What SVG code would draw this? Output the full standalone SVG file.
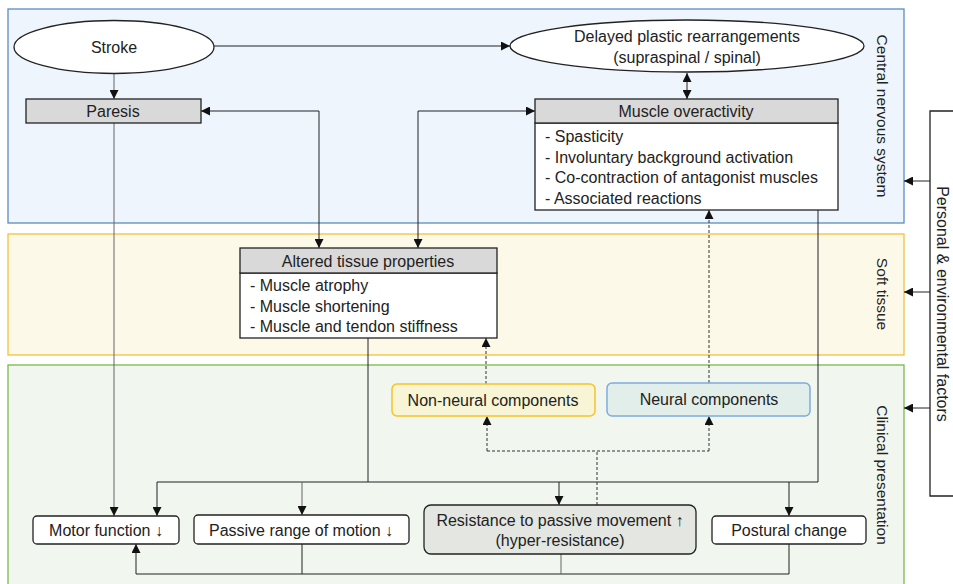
<svg xmlns="http://www.w3.org/2000/svg" width="953" height="584" viewBox="0 0 953 584">
<defs>
<marker id="ah" viewBox="0 0 10 10" refX="10" refY="5" markerWidth="9" markerHeight="9" orient="auto-start-reverse" markerUnits="userSpaceOnUse">
<path d="M0,0 L10,5 L0,10 z" fill="#111"/>
</marker>
<style>
text{font-family:"Liberation Sans","Open Sans",Arial,sans-serif;font-size:16px;fill:#222}
.c{text-anchor:middle}
.ln{fill:none;stroke:#222;stroke-width:1}
.lg{fill:none;stroke:#666;stroke-width:1}
.ds{fill:none;stroke:#333;stroke-width:1;stroke-dasharray:3,2}
.box{fill:#fff;stroke:#222;stroke-width:1.3}
.hdr{fill:#d9d9d9;stroke:#222;stroke-width:1.3}
.rb{fill:#fff;stroke:#222;stroke-width:1.3}
.side{font-size:15.5px}
</style>
</defs>
<rect width="953" height="584" fill="#fff"/>
<g id="regions">
<rect x="8" y="9" width="896" height="214" fill="#eef5fc" stroke="#5b8cc2" stroke-width="1.3"/>
<rect x="8" y="234" width="896" height="121" fill="#fdf9e8" stroke="#f5c13a" stroke-width="1.3"/>
<rect x="8" y="365" width="896" height="225" fill="#f1f6ef" stroke="#7cb84c" stroke-width="1.3"/>
<text class="side c" transform="translate(877,116) rotate(90)">Central nervous system</text>
<text class="side c" transform="translate(877,294) rotate(90)">Soft tissue</text>
<text class="side c" transform="translate(877,475) rotate(90)">Clinical presentation</text>
</g>
<g id="personal">
<path d="M953,111 H930 V496 H953" fill="none" stroke="#222" stroke-width="1.3"/>
<text class="c" transform="translate(937,304) rotate(90)">Personal &amp; environmental factors</text>
</g>
<g id="connectors">
<line class="ln" x1="930" y1="181" x2="904" y2="181" marker-end="url(#ah)"/>
<line class="ln" x1="930" y1="292" x2="904" y2="292" marker-end="url(#ah)"/>
<line class="ln" x1="930" y1="408" x2="904" y2="408" marker-end="url(#ah)"/>
<line class="ln" x1="213" y1="46" x2="510" y2="46" marker-end="url(#ah)"/>
<line class="lg" x1="114" y1="73" x2="114" y2="99" marker-end="url(#ah)"/>
<line class="ln" x1="687" y1="73" x2="687" y2="99" marker-start="url(#ah)" marker-end="url(#ah)"/>
<path class="ln" d="M201,111 H319 V248" marker-start="url(#ah)" marker-end="url(#ah)"/>
<path class="ln" d="M535,111 H418 V248" marker-start="url(#ah)" marker-end="url(#ah)"/>
<line class="lg" x1="114" y1="123" x2="114" y2="516" marker-end="url(#ah)"/>
<path class="ln" d="M368,338 V482"/>
<path class="ln" d="M818,210 V482 H157 V516" marker-end="url(#ah)"/>
<line class="lg" x1="302" y1="482" x2="302" y2="515" marker-end="url(#ah)"/>
<line class="ln" x1="559" y1="482" x2="559" y2="505" marker-end="url(#ah)"/>
<line class="ln" x1="789" y1="482" x2="789" y2="516" marker-end="url(#ah)"/>
<path class="ln" d="M789,544 V574 H136 V544" marker-end="url(#ah)"/>
<line class="ln" x1="302" y1="544" x2="302" y2="574"/>
<line class="lg" x1="561" y1="554" x2="561" y2="574"/>
<line class="ds" x1="597" y1="505" x2="597" y2="451"/>
<path class="ds" d="M487,451 H709"/>
<line class="ds" x1="487" y1="451" x2="487" y2="416" marker-end="url(#ah)"/>
<line class="ds" x1="709" y1="451" x2="709" y2="416" marker-end="url(#ah)"/>
<line class="ds" x1="486" y1="384" x2="486" y2="338" marker-end="url(#ah)"/>
<line class="ds" x1="709" y1="383" x2="709" y2="210" marker-end="url(#ah)"/>
</g>
<g id="stroke">
<ellipse cx="114" cy="47" rx="100" ry="26.5" fill="#fff" stroke="#222" stroke-width="1.3"/>
<text class="c" x="114" y="53">Stroke</text>
</g>
<g id="delayed">
<ellipse cx="687" cy="46" rx="177" ry="26" fill="#fff" stroke="#222" stroke-width="1.3"/>
<text class="c" x="687" y="42">Delayed plastic rearrangements</text>
<text class="c" x="687" y="63">(supraspinal / spinal)</text>
</g>
<g id="paresis">
<rect class="hdr" x="26" y="99" width="175" height="24"/>
<text class="c" x="113" y="117">Paresis</text>
</g>
<g id="overactivity">
<rect class="box" x="535" y="123" width="303" height="87"/>
<rect class="hdr" x="535" y="99" width="303" height="24"/>
<text class="c" x="686" y="117">Muscle overactivity</text>
<text x="545" y="142">- Spasticity</text>
<text x="545" y="163">- Involuntary background activation</text>
<text x="545" y="183">- Co-contraction of antagonist muscles</text>
<text x="545" y="204">- Associated reactions</text>
</g>
<g id="tissue">
<rect class="box" x="240" y="273" width="257" height="65"/>
<rect class="hdr" x="240" y="248" width="257" height="25"/>
<text class="c" x="368" y="267">Altered tissue properties</text>
<text x="250" y="291">- Muscle atrophy</text>
<text x="250" y="312">- Muscle shortening</text>
<text x="250" y="332">- Muscle and tendon stiffness</text>
</g>
<g id="nonneural">
<rect x="392" y="384" width="203" height="32" rx="5" fill="#f8f5d6" stroke="#f5c425" stroke-width="1.5"/>
<text class="c" x="493" y="406">Non-neural components</text>
</g>
<g id="neural">
<rect x="607" y="383" width="203" height="33" rx="5" fill="#e1eeea" stroke="#7badde" stroke-width="1.5"/>
<text class="c" x="709" y="405">Neural components</text>
</g>
<g id="motor">
<rect class="rb" x="33" y="516" width="146" height="28" rx="4"/>
<text class="c" x="106" y="536">Motor function ↓</text>
</g>
<g id="prom">
<rect class="rb" x="194" y="515" width="215" height="29" rx="4"/>
<text class="c" x="301" y="536">Passive range of motion ↓</text>
</g>
<g id="resistance">
<rect x="424" y="505" width="272" height="49" rx="7" fill="#e3e6e1" stroke="#222" stroke-width="1.3"/>
<text class="c" x="560" y="526">Resistance to passive movement ↑</text>
<text class="c" x="560" y="546">(hyper-resistance)</text>
</g>
<g id="postural">
<rect class="rb" x="712" y="516" width="154" height="28" rx="4"/>
<text class="c" x="789" y="536">Postural change</text>
</g>
</svg>
